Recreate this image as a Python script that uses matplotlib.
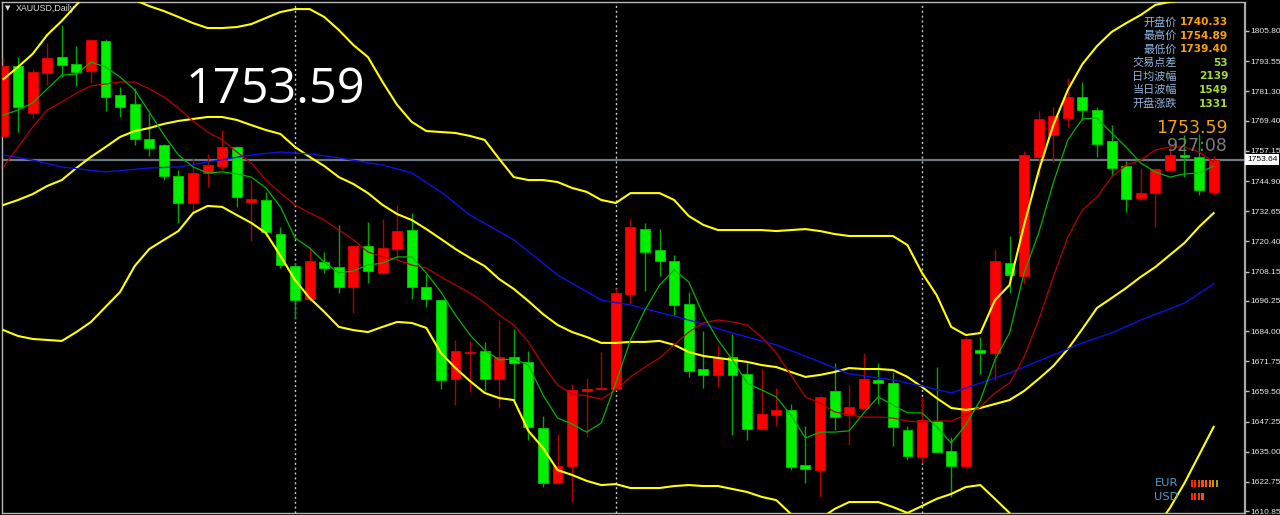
"""XAUUSD daily candlestick chart (MT4 style) with moving averages and Bollinger bands."""

import matplotlib
import numpy as np

matplotlib.use("Agg")
import matplotlib.pyplot as plt  # noqa: E402
from matplotlib.patches import Rectangle  # noqa: E402

W, H = 1280, 515

# ---- candles (bar 0 = leftmost visible day) ----
opens = [1763.2, 1791.4, 1772.7, 1788.9, 1795.1, 1792.4, 1789.7, 1801.8, 1779.8, 1776.1,
         1761.8, 1759.5, 1746.8, 1736.1, 1748.0, 1751.1, 1758.8, 1736.4, 1737.2, 1723.3,
         1710.6, 1696.9, 1712.0, 1710.0, 1702.0, 1718.6, 1707.6, 1717.5, 1725.0, 1701.8,
         1696.6, 1664.6, 1674.9, 1675.9, 1664.6, 1673.4, 1671.6, 1644.5, 1622.3, 1629.2,
         1659.8, 1660.5, 1660.5, 1698.9, 1725.4, 1716.9, 1712.4, 1695.0, 1668.6, 1666.2,
         1673.6, 1666.6, 1644.2, 1650.0, 1652.0, 1629.6, 1627.6, 1659.7, 1650.0, 1652.7,
         1664.1, 1663.0, 1643.8, 1632.8, 1647.6, 1635.4, 1629.4, 1676.3, 1674.9, 1711.7,
         1706.4, 1754.8, 1763.6, 1770.4, 1778.9, 1773.8, 1761.1, 1751.1, 1737.9, 1740.2,
         1749.4, 1755.5, 1754.8, 1740.33]
highs = [1795.2, 1795.1, 1790.3, 1800.8, 1808.3, 1799.7, 1802.5, 1802.6, 1783.2, 1782.5,
         1772.4, 1759.8, 1749.5, 1754.2, 1755.9, 1765.7, 1759.2, 1745.3, 1740.6, 1726.4,
         1711.7, 1718.0, 1716.0, 1727.1, 1719.0, 1728.2, 1729.6, 1735.3, 1731.9, 1707.2,
         1697.1, 1680.5, 1680.1, 1679.7, 1688.3, 1684.7, 1676.0, 1649.7, 1642.3, 1662.5,
         1664.8, 1675.4, 1701.4, 1729.6, 1727.8, 1725.5, 1714.9, 1700.0, 1684.2, 1678.2,
         1682.7, 1671.0, 1668.6, 1660.8, 1654.4, 1645.6, 1657.7, 1671.0, 1662.1, 1674.9,
         1671.0, 1667.3, 1645.6, 1657.3, 1669.6, 1641.1, 1681.7, 1681.7, 1717.2, 1722.6,
         1757.2, 1773.4, 1775.1, 1786.6, 1785.2, 1774.9, 1767.7, 1753.2, 1750.1, 1750.1,
         1758.8, 1763.6, 1764.0, 1754.89]
lows = [1762.8, 1764.9, 1770.4, 1783.9, 1787.3, 1783.5, 1784.8, 1773.2, 1771.0, 1759.5,
        1755.1, 1745.4, 1727.7, 1731.8, 1742.3, 1749.4, 1734.3, 1720.4, 1722.5, 1709.6,
        1688.8, 1696.4, 1707.5, 1699.6, 1691.2, 1703.7, 1707.1, 1712.9, 1696.9, 1693.6,
        1660.3, 1654.0, 1659.4, 1659.8, 1653.3, 1656.0, 1639.6, 1620.9, 1621.8, 1614.8,
        1641.1, 1660.3, 1660.2, 1695.0, 1700.3, 1706.4, 1690.5, 1665.2, 1660.8, 1661.2,
        1641.8, 1639.8, 1643.8, 1645.6, 1627.6, 1622.3, 1616.8, 1643.8, 1637.8, 1652.4,
        1654.4, 1637.5, 1631.7, 1630.3, 1634.7, 1616.8, 1628.3, 1666.6, 1664.1, 1699.3,
        1703.4, 1746.7, 1752.8, 1767.0, 1769.7, 1754.6, 1747.3, 1732.5, 1737.0, 1726.4,
        1748.7, 1746.4, 1739.3, 1739.40]
closes = [1791.6, 1775.0, 1789.1, 1794.7, 1792.2, 1789.3, 1802.2, 1779.1, 1775.0, 1761.9,
          1758.2, 1746.8, 1736.1, 1748.3, 1751.4, 1758.8, 1738.3, 1737.5, 1724.4, 1710.9,
          1696.6, 1712.3, 1709.8, 1701.8, 1718.6, 1708.2, 1717.6, 1724.8, 1702.0, 1697.0,
          1664.1, 1675.9, 1675.6, 1664.6, 1673.6, 1671.0, 1644.9, 1622.3, 1629.4, 1660.1,
          1660.5, 1661.0, 1699.6, 1726.2, 1716.0, 1712.4, 1694.6, 1667.9, 1666.2, 1673.0,
          1666.2, 1644.2, 1650.4, 1652.0, 1628.7, 1628.0, 1657.1, 1649.0, 1653.1, 1664.6,
          1663.0, 1644.9, 1633.3, 1647.9, 1635.1, 1629.4, 1680.8, 1674.9, 1712.6, 1706.8,
          1755.5, 1770.0, 1771.3, 1778.9, 1773.8, 1759.9, 1750.1, 1737.5, 1740.2, 1749.7,
          1755.5, 1754.8, 1741.3, 1753.59]

# ---- indicator lines ----
ma_fast = [1771.7, 1773.7, 1776.6, 1782.3, 1787.9, 1788.3, 1793.2, 1791.2, 1787.1, 1781.9,
           1772.9, 1763.6, 1755.5, 1750.6, 1748.2, 1748.6, 1747.8, 1746.5, 1742.1, 1734.4,
           1721.8, 1717.7, 1712.0, 1707.6, 1708.4, 1710.8, 1711.6, 1714.1, 1714.1, 1707.6,
           1699.9, 1690.5, 1682.4, 1676.3, 1672.3, 1672.7, 1670.2, 1658.1, 1648.7, 1646.3,
           1643.0, 1646.7, 1662.9, 1680.4, 1692.6, 1702.7, 1708.8, 1703.9, 1690.5, 1680.4,
           1672.3, 1662.9, 1660.1, 1657.3, 1649.9, 1640.6, 1643.0, 1643.0, 1643.5, 1650.8,
           1657.3, 1654.0, 1650.8, 1650.8, 1645.1, 1638.6, 1645.9, 1656.0, 1672.3, 1683.2,
           1707.6, 1723.8, 1744.1, 1761.6, 1770.1, 1770.5, 1764.4, 1758.7, 1752.2, 1748.6,
           1746.5, 1747.8, 1748.2, 1751.0]
ma_mid = [1750.6, 1758.7, 1766.8, 1773.7, 1777.0, 1780.6, 1783.5, 1784.3, 1785.1, 1785.1,
          1782.3, 1779.0, 1774.5, 1769.3, 1764.8, 1761.6, 1756.7, 1752.2, 1745.3, 1740.0,
          1735.2, 1731.9, 1729.1, 1725.0, 1721.0, 1716.1, 1714.1, 1712.9, 1710.8, 1709.6,
          1706.0, 1702.7, 1699.5, 1695.4, 1690.5, 1686.5, 1679.6, 1670.2, 1662.1, 1658.5,
          1657.7, 1656.4, 1660.1, 1665.4, 1669.4, 1673.1, 1678.4, 1683.6, 1687.3, 1688.5,
          1687.7, 1686.5, 1681.6, 1675.1, 1666.2, 1657.3, 1654.8, 1651.2, 1649.9, 1649.1,
          1649.1, 1648.7, 1647.5, 1647.1, 1647.5, 1647.5, 1649.9, 1653.2, 1658.9, 1662.9,
          1673.5, 1688.5, 1706.0, 1722.2, 1733.2, 1738.4, 1746.5, 1751.4, 1753.4, 1757.5,
          1758.7, 1758.7, 1756.7, 1752.6]
ma_slow_bars = [0, 2, 4, 7, 10, 12, 14, 17, 19, 21, 23, 26, 28, 30, 32, 35, 38, 41, 43, 47,
                50, 53, 56, 58, 61, 63, 65, 67, 69, 72, 74, 76, 78, 81, 83]
ma_slow = [1755.5, 1753.4, 1750.6, 1748.6, 1750.2, 1750.6, 1752.6, 1755.5, 1756.7, 1755.9,
           1754.3, 1751.4, 1748.2, 1740.5, 1731.1, 1721.0, 1706.8, 1696.6, 1694.6, 1688.5,
           1683.2, 1678.4, 1671.5, 1666.6, 1664.2, 1661.7, 1658.9, 1662.9, 1667.0, 1674.3,
           1679.2, 1683.2, 1688.5, 1695.4, 1703.1]
bb_upper = [1786.3, 1791.2, 1796.5, 1804.2, 1809.9, 1816.4, 1822.4, 1824.1, 1822.4, 1818.4,
            1815.9, 1813.9, 1811.5, 1809.0, 1807.0, 1807.0, 1807.4, 1808.6, 1811.1, 1813.5,
            1814.7, 1814.7, 1811.5, 1806.2, 1800.1, 1795.2, 1785.1, 1775.8, 1768.9, 1765.2,
            1764.8, 1764.4, 1763.2, 1761.6, 1753.9, 1746.5, 1745.3, 1745.3, 1744.5, 1742.1,
            1740.5, 1737.2, 1736.0, 1740.0, 1740.0, 1740.0, 1737.2, 1730.7, 1727.1, 1725.0,
            1725.0, 1725.0, 1725.0, 1724.6, 1725.0, 1725.4, 1724.6, 1723.4, 1722.6, 1722.6,
            1722.6, 1722.6, 1718.9, 1707.6, 1698.6, 1685.7, 1682.4, 1683.2, 1696.6, 1702.7,
            1727.1, 1749.0, 1767.6, 1781.9, 1792.4, 1799.7, 1805.4, 1809.0, 1812.3, 1816.4,
            1817.6, 1818.4, 1818.8, 1818.8]
bb_mid = [1735.2, 1737.2, 1739.6, 1742.9, 1745.3, 1750.2, 1754.7, 1758.7, 1762.8, 1765.2,
          1766.4, 1768.1, 1769.3, 1770.1, 1770.9, 1770.9, 1769.7, 1767.6, 1765.6, 1764.0,
          1758.7, 1754.7, 1751.0, 1746.5, 1743.7, 1740.0, 1735.2, 1731.5, 1729.1, 1725.4,
          1721.4, 1717.3, 1713.7, 1710.4, 1705.1, 1701.1, 1696.2, 1690.9, 1686.5, 1683.6,
          1681.6, 1679.2, 1679.2, 1679.6, 1679.6, 1680.0, 1678.4, 1675.5, 1673.9, 1673.1,
          1672.3, 1671.5, 1670.2, 1669.4, 1667.4, 1665.4, 1666.2, 1667.4, 1669.0, 1668.6,
          1668.6, 1668.2, 1665.4, 1661.3, 1656.8, 1652.8, 1652.0, 1652.8, 1654.4, 1656.0,
          1659.7, 1664.6, 1669.8, 1676.7, 1684.9, 1693.4, 1697.4, 1701.5, 1706.0, 1710.0,
          1714.9, 1719.8, 1726.3, 1731.9]
bb_lower = [1684.4, 1682.0, 1680.8, 1680.4, 1680.0, 1683.6, 1687.7, 1693.8, 1699.9, 1710.4,
            1717.3, 1721.0, 1724.6, 1731.9, 1734.8, 1734.4, 1731.1, 1727.9, 1723.8, 1714.5,
            1704.7, 1697.4, 1691.8, 1685.7, 1684.4, 1683.6, 1685.7, 1687.7, 1687.3, 1685.3,
            1675.1, 1669.0, 1663.7, 1658.9, 1656.8, 1656.0, 1643.5, 1636.6, 1627.6, 1625.6,
            1623.2, 1621.5, 1621.9, 1620.3, 1620.3, 1620.3, 1621.1, 1621.5, 1621.1, 1621.1,
            1619.9, 1618.7, 1616.7, 1615.4, 1609.8, 1605.3, 1607.7, 1611.8, 1614.6, 1614.6,
            1614.6, 1612.6, 1610.2, 1613.0, 1615.9, 1617.9, 1620.7, 1621.5, 1615.9, 1610.2,
            1593.1, 1580.1, 1572.0, 1571.6, 1577.3, 1587.0, 1589.5, 1593.9, 1599.6, 1603.7,
            1612.2, 1622.3, 1633.7, 1645.1]

month_starts = [20, 42, 63]
price_ticks = [1805.80, 1793.55, 1781.30, 1769.40, 1757.15, 1744.90, 1732.65, 1720.40,
               1708.15, 1696.25, 1684.00, 1671.75, 1659.50, 1647.25, 1635.00, 1622.75, 1610.85]
bid = 1753.64
last_price = "1753.59"
timer = "927:08"
info_labels = ["开盘价", "最高价", "最低价", "交易点差", "日均波幅", "当日波幅", "开盘涨跌"]
info_values = ["1740.33", "1754.89", "1739.40", "53", "2139", "1549", "1331"]
eur_strength = ["#ff2200", "#ff2a00", "#ff3a00", "#ff4a00", "#ff5a00", "#f06a00", "#c89600", "#a8a000"]
usd_strength = ["#ff2200", "#ff2a00", "#ff3a00", "#ff4a00"]

plt.rcParams["font.family"] = ["Liberation Sans", "Noto Sans CJK SC", "DejaVu Sans"]

fig = plt.figure(figsize=(W / 100, H / 100), dpi=100, facecolor="black")
ax = fig.add_axes([2 / W, 2 / H, 1243 / W, 511 / H])
ax.set_facecolor("black")
ax.set_xlim(-0.1, 85.15)
ax.set_ylim(1610.16, 1817.57)

bars = np.arange(len(opens))
o, h, l, c = (np.asarray(v) for v in (opens, highs, lows, closes))
rising = c > o  # red = up, green = down

# month separators, then the bid line
for m in month_starts:
    ax.axvline(m, color="#c8c8c8", lw=1.0, ls=(0, (1.5, 2)), zorder=1)
ax.axhline(bid, color="#6f7882", lw=1.6, zorder=1.5)

ax.vlines(bars, l, h, colors=np.where(rising, "#b00000", "#00a800"), lw=1.0, zorder=3)
ax.bar(bars, np.maximum(np.abs(c - o), 0.25), bottom=np.minimum(o, c), width=0.68,
       color=np.where(rising, "#ff0000", "#00f000"),
       edgecolor=np.where(rising, "#e00000", "#00c800"), linewidth=0.6, zorder=4)

ax.plot(bars, bb_upper, color="#ffff00", lw=1.5, zorder=5)
ax.plot(bars, bb_mid, color="#ffff00", lw=1.5, zorder=5)
ax.plot(bars, bb_lower, color="#ffff00", lw=1.5, zorder=5)
ax.plot(ma_slow_bars, ma_slow, color="#1010e0", lw=1.0, zorder=5)
ax.plot(bars, ma_mid, color="#b80000", lw=0.9, zorder=5)
ax.plot(bars, ma_fast, color="#00b400", lw=0.9, zorder=5)

# right price scale
ax.yaxis.tick_right()
ax.set_yticks(price_ticks)
ax.set_yticklabels([f"{v:.2f}" for v in price_ticks])
ax.tick_params(axis="y", colors="#c0c0c0", labelcolor="#e8e8e8", length=3, width=1,
               pad=1, labelsize=6.0)
ax.set_xticks([])
for side in ("left", "top", "bottom"):
    ax.spines[side].set_color("#b8b8b8")
    ax.spines[side].set_linewidth(1.0)
ax.spines["right"].set_color("#a8a8a8")
ax.spines["right"].set_linewidth(1.6)
ax.spines["right"].set_linestyle((0, (1, 1)))
ax.text(1.0015, bid, f"{bid:.2f}", transform=ax.get_yaxis_transform(), ha="left",
        va="center", fontsize=6.0, color="black", zorder=10, clip_on=False,
        bbox=dict(boxstyle="square,pad=0.25", fc="white", ec="none"))

# overlay in pixel coordinates for the terminal's text objects
ov = fig.add_axes([0, 0, 1, 1], zorder=10)
ov.set_xlim(0, W)
ov.set_ylim(H, 0)
ov.axis("off")

ov.text(5, 8.5, "▼", color="#e0e0e0", fontsize=5, va="center", ha="left",
        family=["DejaVu Sans"])
ov.text(16, 8.5, "XAUUSD,Daily", color="#e0e0e0", fontsize=6.4, va="center", ha="left")
ov.text(186, 103, last_price, color="white", fontsize=35, va="baseline", ha="left",
        family=["Open Sans", "DejaVu Sans"])

for k, (lab, val) in enumerate(zip(info_labels, info_values)):
    y = 22 + k * 13.6
    ov.text(1177, y, lab, color="#93b4dc", fontsize=8, ha="right", va="center",
            family=["Noto Sans CJK SC", "DejaVu Sans"])
    ov.text(1228, y, val, color="#ffa000" if k < 3 else "#a8d83c", fontsize=7.6,
            fontweight="bold", ha="right", va="center", family=["DejaVu Sans"])

ov.text(1228, 128, last_price, color="#f0a020", fontsize=12.5, ha="right", va="center",
        family=["DejaVu Sans"])
ov.text(1228, 146, timer, color="#7c7c7c", fontsize=12.5, ha="right", va="center",
        family=["DejaVu Sans"])

ov.text(1178, 483, "EUR", color="#4f9fd0", fontsize=8.2, ha="right", va="center",
        family=["DejaVu Sans"])
ov.text(1178, 497, "USD", color="#4f9fd0", fontsize=8.2, ha="right", va="center",
        family=["DejaVu Sans"])
for k, col in enumerate(eur_strength):
    ov.add_patch(Rectangle((1190.5 + k * 3.6, 479.5), 2.2, 7, color=col, lw=0))
for k, col in enumerate(usd_strength):
    ov.add_patch(Rectangle((1190.5 + k * 3.6, 493), 2.2, 7, color=col, lw=0))

fig.savefig("out.png", dpi=100, facecolor="black")
plt.close(fig)
